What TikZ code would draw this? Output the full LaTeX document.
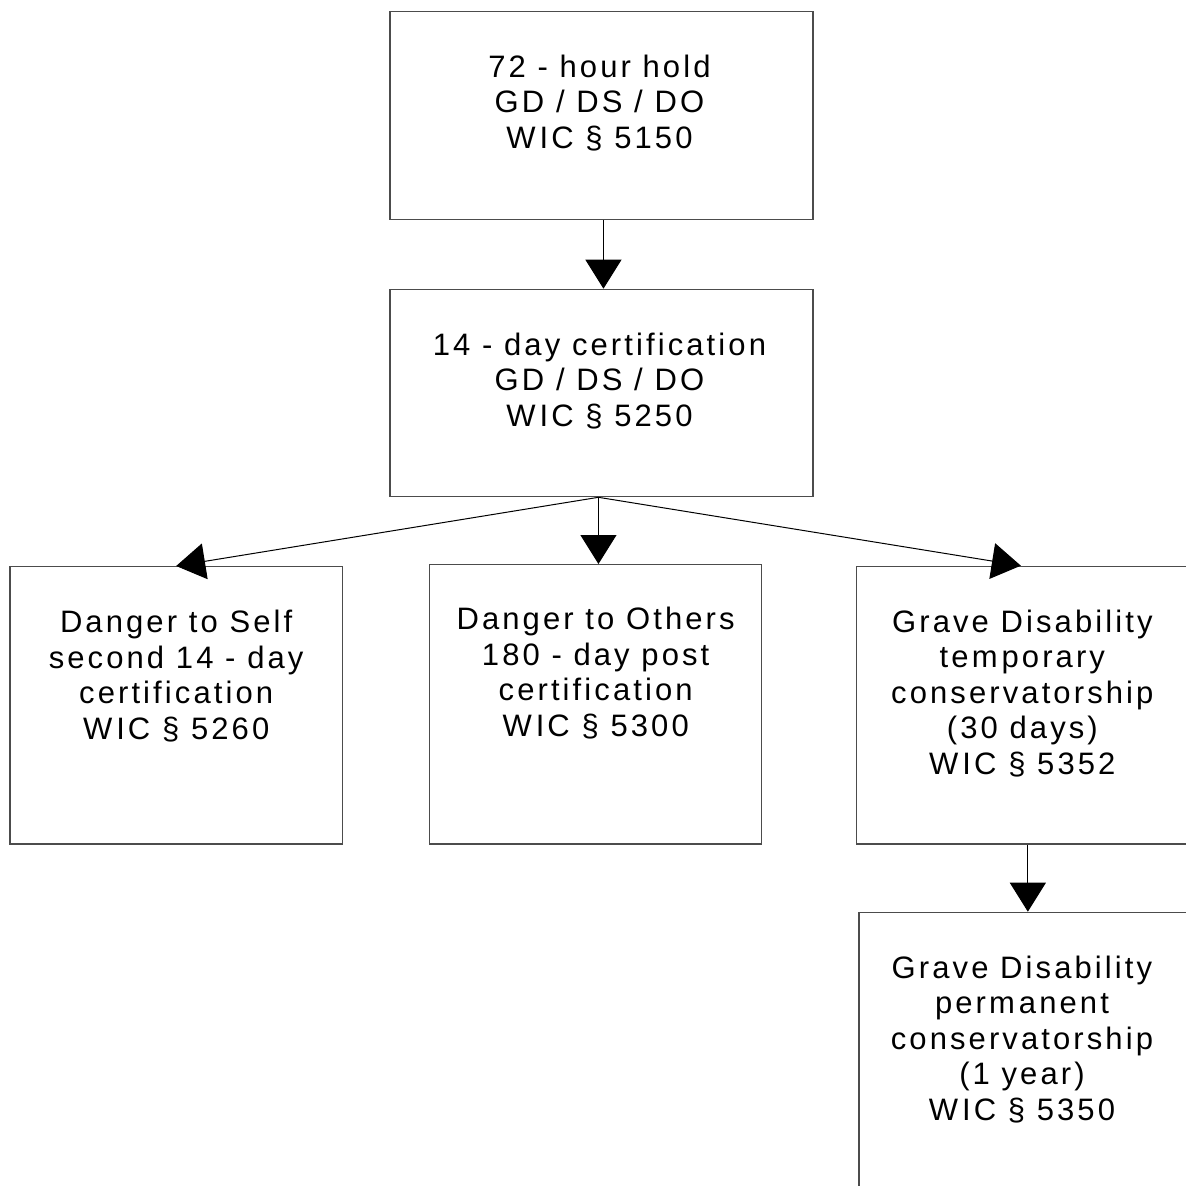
\documentclass[tikz,border=0pt]{standalone}
\usepackage{fontspec}
\setmainfont{Liberation Sans}[LetterSpace=10]
\usetikzlibrary{arrows.meta,calc}
\newcommand{\Wk}{W\kern4pt IC}
\newcommand{\mk}{m\kern4pt }
\begin{document}
\begin{tikzpicture}[x=1pt,y=-1pt,
  box/.style={draw=black!70,line width=1.3pt,inner sep=0pt,anchor=north west,
    minimum width=332pt,minimum height=278pt},
  txt/.style={font=\fontsize{31}{35.5}\selectfont,align=center,anchor=north,inner sep=0pt},
  arr/.style={draw=black,line width=1pt,-{Triangle[length=29pt,width=36pt]}}]
\useasboundingbox (0,0) rectangle (1186,1186);
\fill[white] (0,0) rectangle (1186,1186);
% boxes
\node[box,minimum width=423pt,minimum height=208.3pt] (b1) at (389.3,10.7) {};
\node[box,minimum width=423pt,minimum height=207.3pt] (b2) at (389.3,288.7) {};
\node[box,minimum width=332.4pt,minimum height=277.3pt] (b3) at (9.3,566) {};
\node[box,minimum width=332pt,minimum height=279.3pt] (b4) at (429,564) {};
\node[box,minimum width=332pt,minimum height=277.6pt] (b5) at (855.7,565.7) {};
\node[box,minimum width=330pt,minimum height=280pt] (b6) at (858.3,911.7) {};
% texts
\node[txt] (t1) at ($(b1.north)+(-2,44)$) {72 - hour hold\\GD / DS / DO\\\Wk{} § 5150};
\node[txt] (t2) at ($(b2.north)+(-2,44)$) {14 - day certification\\GD / DS / DO\\\Wk{} § 5250};
\node[txt] (t3) at ($(b3.north)+(0,44)$) {Danger to Self\\second 14 - day\\certification\\\Wk{} § 5260};
\node[txt] (t4) at ($(b4.north)+(0,43)$) {Danger to Others\\180 - day post\\certification\\\Wk{} § 5300};
\node[txt] (t5) at ($(b5.north)+(0,44)$) {Grave Disability\\te\mk porary\\conservatorship\\(30 days)\\\Wk{} § 5352};
\node[txt] (t6) at ($(b6.north)+(-2,44)$) {Grave Disability\\per\mk anent\\conservatorship\\(1 year)\\\Wk{} § 5350};
% connectors
\draw[arr] ([xshift=2pt]b1.south) -- ([xshift=2pt]b2.north);
\coordinate (fork) at ([xshift=-3pt]b2.south);
\draw[arr] (fork) -- (b3.north);
\draw[arr] (fork) -- (fork |- b4.north);
\draw[arr] (fork) -- ([xshift=-1.5pt]b5.north);
\draw[arr] ([xshift=5.5pt]b5.south) -- ([xshift=5.5pt]b5.south |- b6.north);
\end{tikzpicture}
\end{document}
